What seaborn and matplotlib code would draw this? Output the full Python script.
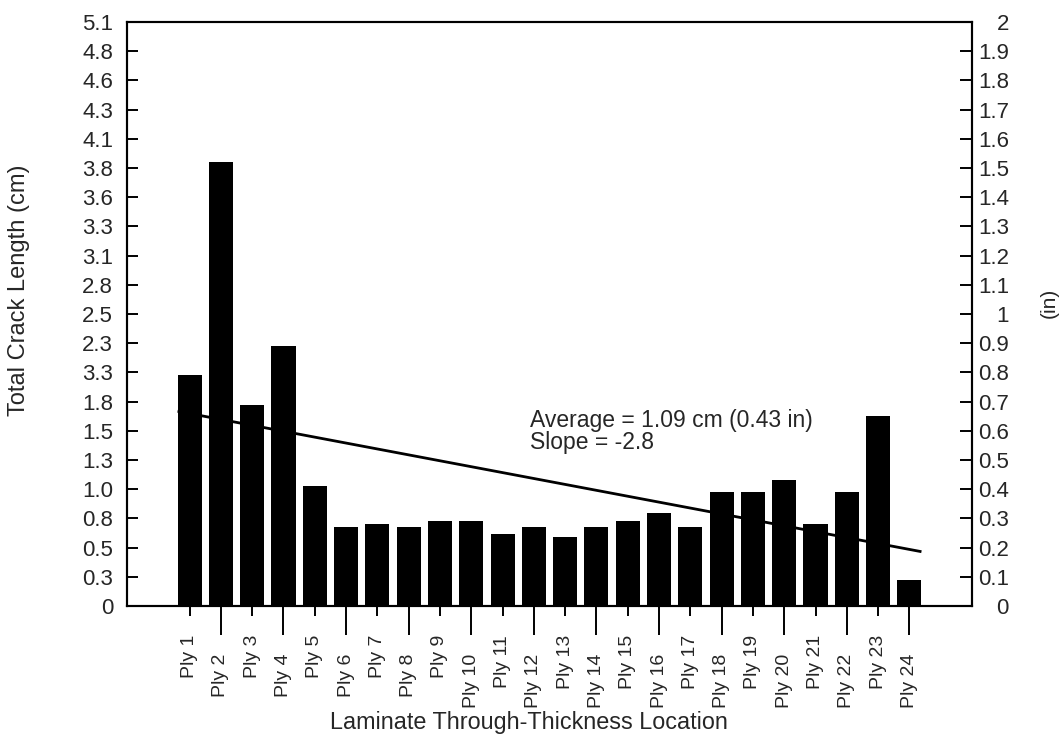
import matplotlib
matplotlib.use("Agg")
import matplotlib.pyplot as plt
import numpy as np
import pandas as pd
import seaborn as sns

# Total crack length per ply, in inches
plies = ["Ply 1", "Ply 2", "Ply 3", "Ply 4", "Ply 5", "Ply 6", "Ply 7", "Ply 8",
         "Ply 9", "Ply 10", "Ply 11", "Ply 12", "Ply 13", "Ply 14", "Ply 15", "Ply 16",
         "Ply 17", "Ply 18", "Ply 19", "Ply 20", "Ply 21", "Ply 22", "Ply 23", "Ply 24"]
crack_in = [0.79, 1.52, 0.69, 0.89, 0.41, 0.27, 0.28, 0.27,
            0.29, 0.29, 0.245, 0.27, 0.235, 0.27, 0.29, 0.32,
            0.27, 0.39, 0.39, 0.43, 0.28, 0.39, 0.65, 0.09]

# Linear trend: values at the first and last bar edges (inches)
trend_in = [0.667, 0.186]

# Axis ticks (inches) with their cm / in labels
tick_in = np.round(np.arange(0, 2.01, 0.1), 2)
cm_labels = ["0", "0.3", "0.5", "0.8", "1.0", "1.3", "1.5", "1.8", "3.3", "2.3", "2.5",
             "2.8", "3.1", "3.3", "3.6", "3.8", "4.1", "4.3", "4.6", "4.8", "5.1"]
in_labels = ["0", "0.1", "0.2", "0.3", "0.4", "0.5", "0.6", "0.7", "0.8", "0.9", "1",
             "1.1", "1.2", "1.3", "1.4", "1.5", "1.6", "1.7", "1.8", "1.9", "2"]

note_lines = ["Average = 1.09 cm (0.43 in)", "Slope = -2.8"]

sns.set_style("ticks")
plt.rcParams["font.family"] = ["Liberation Sans", "DejaVu Sans"]
FS_TICK = 16
FS_CAT = 14
LW = 1.5

fig = plt.figure(figsize=(10.63, 7.34), dpi=100)
ax = fig.add_axes([127 / 1063, 1 - 606 / 734, 845 / 1063, 584 / 734])

df = pd.DataFrame({"ply": plies, "crack": crack_in})
bar_w = 0.77
sns.barplot(data=df, x="ply", y="crack", color="black", saturation=1,
            width=bar_w, linewidth=0, ax=ax, zorder=3)

# trend line runs from the left edge of the first bar to the right edge of the last
x0 = -bar_w / 2
x1 = len(plies) - 1 + bar_w / 2
ax.plot([x0, x1], trend_in, color="black", lw=2.0, zorder=2, solid_capstyle="butt")

ax.set_xlim(-2, len(plies) + 1)
ax.set_ylim(0, 2)
ax.set_xlabel("")
ax.set_ylabel("")

# staggered category labels: odd plies on short ticks, even plies on long ticks
idx = np.arange(len(plies))
ax.set_xticks(idx[1::2], plies[1::2])
ax.set_xticks(idx[0::2], plies[0::2], minor=True)
ax.tick_params(axis="x", which="major", direction="out", length=20.9, width=1.4,
               pad=13.5, labelrotation=90, labelsize=FS_CAT, color="black")
ax.tick_params(axis="x", which="minor", direction="out", length=7.2, width=1.4,
               pad=13.5, labelrotation=90, labelsize=FS_CAT, color="black")

ax.set_yticks(tick_in, cm_labels)
ax.tick_params(axis="y", direction="in", length=8, width=1.4, pad=10,
               labelsize=FS_TICK, color="black")

ax2 = ax.twinx()
ax2.set_ylim(0, 2)
ax2.set_yticks(tick_in, in_labels)
ax2.tick_params(axis="y", direction="in", length=8.6, width=1.4, pad=26.6,
                labelsize=FS_TICK, color="black")
for lab in ax2.get_yticklabels():
    lab.set_horizontalalignment("right")

for a in (ax, ax2):
    for s in a.spines.values():
        s.set_linewidth(LW)
        s.set_color("black")

ax.text(10.88, 0.613, note_lines[0], fontsize=16.5, va="baseline", ha="left")
ax.text(10.88, 0.5377, note_lines[1], fontsize=16.5, va="baseline", ha="left")

fig.text(19 / 1063, 1 - 290 / 734, "Total Crack Length (cm)", rotation=90,
         ha="center", va="center", fontsize=17)
fig.text(1049 / 1063, 1 - 303 / 734, "(in)", rotation=90,
         ha="center", va="center", fontsize=15)
fig.text(529 / 1063, 1 - 723 / 734, "Laminate Through-Thickness Location",
         ha="center", va="center", fontsize=16.8)

fig.savefig("out.png", dpi=100)
